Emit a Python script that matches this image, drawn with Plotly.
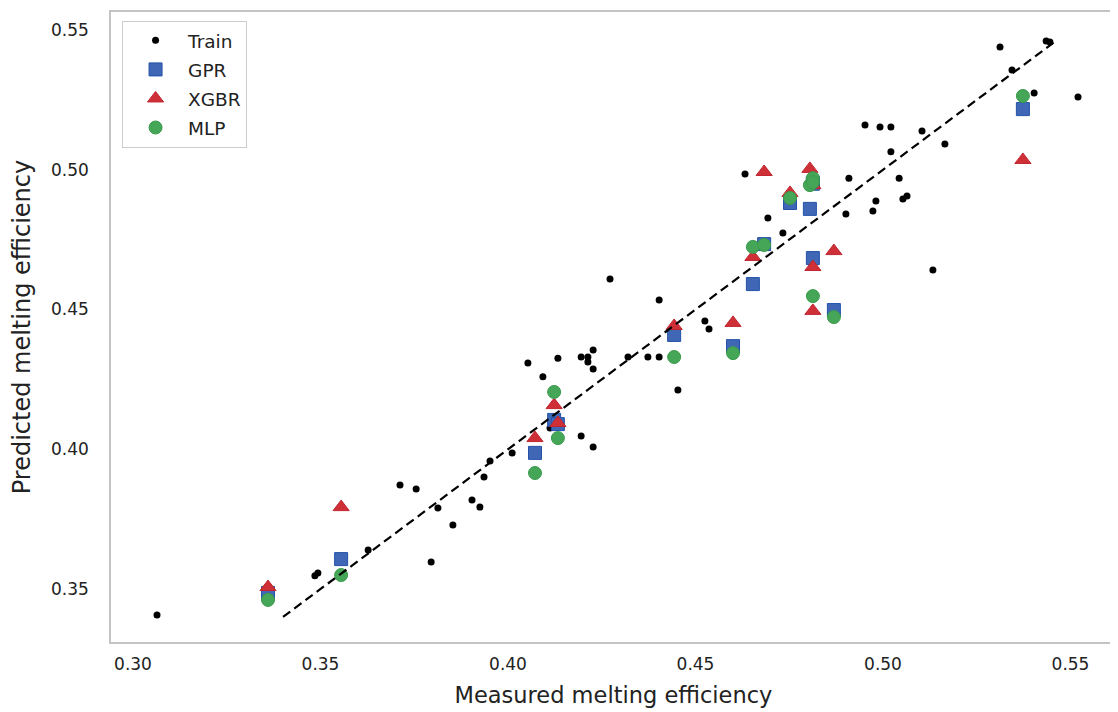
import plotly.graph_objects as go

# Training set (measured, predicted)
train_x = [0.3064, 0.3485, 0.3493, 0.3627, 0.3712, 0.3755, 0.3795, 0.3813, 0.3853, 0.3904,
           0.3925, 0.3936, 0.3952, 0.4011, 0.4053, 0.4093, 0.4112, 0.4133, 0.4195, 0.4227,
           0.4195, 0.4213, 0.4213, 0.4227, 0.4227, 0.4272, 0.4320, 0.4373, 0.4403, 0.4403,
           0.4453, 0.4525, 0.4536, 0.4632, 0.4693, 0.4733, 0.4901, 0.4909, 0.4952, 0.4973,
           0.4981, 0.4992, 0.5021, 0.5021, 0.5043, 0.5053, 0.5064, 0.5104, 0.5133, 0.5165,
           0.5312, 0.5344, 0.5403, 0.5435, 0.5445, 0.5520]
train_y = [0.3407, 0.3547, 0.3557, 0.3640, 0.3872, 0.3858, 0.3597, 0.3790, 0.3729, 0.3818,
           0.3793, 0.3901, 0.3958, 0.3987, 0.4309, 0.4259, 0.4076, 0.4326, 0.4047, 0.4008,
           0.4330, 0.4330, 0.4312, 0.4355, 0.4287, 0.4609, 0.4330, 0.4330, 0.4330, 0.4534,
           0.4212, 0.4459, 0.4430, 0.4985, 0.4827, 0.4774, 0.4842, 0.4970, 0.5160, 0.4852,
           0.4888, 0.5153, 0.5153, 0.5064, 0.4970, 0.4895, 0.4906, 0.5139, 0.4641, 0.5092,
           0.5439, 0.5357, 0.5275, 0.5461, 0.5457, 0.5260]

# Test set: measured values and predictions of each model
test_x = [0.3360, 0.3555, 0.4072, 0.4123, 0.4133, 0.4443, 0.4600, 0.4653, 0.4683, 0.4752,
          0.4805, 0.4813, 0.4813, 0.4813, 0.4869, 0.5373]
gpr_y = [0.3486, 0.3607, 0.3987, 0.4105, 0.4090, 0.4409, 0.4369, 0.4591, 0.4734, 0.4881,
         0.4860, 0.4953, 0.4684, 0.4950, 0.4498, 0.5217]
xgbr_y = [0.3507, 0.3793, 0.4040, 0.4158, 0.4094, 0.4441, 0.4452, 0.4688, 0.4992, 0.4917,
          0.5003, 0.4945, 0.4652, 0.4495, 0.4709, 0.5035]
mlp_y = [0.3461, 0.3550, 0.3915, 0.4205, 0.4040, 0.4330, 0.4344, 0.4724, 0.4731, 0.4899,
         0.4945, 0.4970, 0.4548, 0.4955, 0.4473, 0.5264]

# Ideal line y = x
ideal = [0.340, 0.546]

FONT = "DejaVu Sans"

fig = go.Figure()
fig.add_trace(go.Scatter(x=train_x, y=train_y, mode="markers", name="Train",
                         legendgroup="a",
                         marker=dict(color="black", size=7, line=dict(width=0))))
fig.add_trace(go.Scatter(x=test_x, y=gpr_y, mode="markers", name="GPR",
                         legendgroup="b",
                         marker=dict(symbol="square", color="#3f67b5", size=13,
                                     line=dict(color="#2352a8", width=1))))
fig.add_trace(go.Scatter(x=test_x, y=xgbr_y, mode="markers", name="XGBR",
                         legendgroup="c",
                         marker=dict(symbol="triangle-up", color="#cf3038", size=14,
                                     line=dict(color="#c02630", width=1))))
fig.add_trace(go.Scatter(x=test_x, y=mlp_y, mode="markers", name="MLP",
                         legendgroup="d",
                         marker=dict(symbol="circle", color="#45a657", size=13,
                                     line=dict(color="#3b9b4c", width=1))))
fig.add_trace(go.Scatter(x=ideal, y=ideal, mode="lines", showlegend=False,
                         line=dict(color="black", width=2.2, dash="9px,5px")))

axis_common = dict(showgrid=False, zeroline=False, showline=True, mirror=True,
                   linecolor="#c4c4c4", linewidth=1.5, ticks="", automargin=False,
                   tickfont=dict(family=FONT, size=17, color="#222222"))

fig.update_layout(
    width=1110, height=704,
    margin=dict(l=103, r=2, t=4, b=70),
    paper_bgcolor="white", plot_bgcolor="white",
    font=dict(family=FONT, color="#222222"),
    xaxis=dict(range=[0.29413, 0.56213], tickvals=[0.30, 0.35, 0.40, 0.45, 0.50, 0.55],
               ticktext=["0.30", "0.35", "0.40", "0.45", "0.50", "0.55"],
               ticklabelstandoff=6,
               title=dict(text="Measured melting efficiency", standoff=14,
                          font=dict(family=FONT, size=22.5, color="#222222")),
               **axis_common),
    yaxis=dict(range=[0.33104, 0.55644], tickvals=[0.35, 0.40, 0.45, 0.50, 0.55],
               ticktext=["0.35", "0.40", "0.45", "0.50", "0.55"],
               ticklabelstandoff=17,
               title=dict(text="Predicted melting efficiency", standoff=19,
                          font=dict(family=FONT, size=24, color="#222222")),
               **axis_common),
    legend=dict(x=0.011, y=0.986, xanchor="left", yanchor="top",
                bgcolor="white", bordercolor="#cccccc", borderwidth=1,
                font=dict(family=FONT, size=18.5, color="#222222"),
                tracegroupgap=2, itemwidth=55),
    showlegend=True,
)

fig.write_html("out.html")
